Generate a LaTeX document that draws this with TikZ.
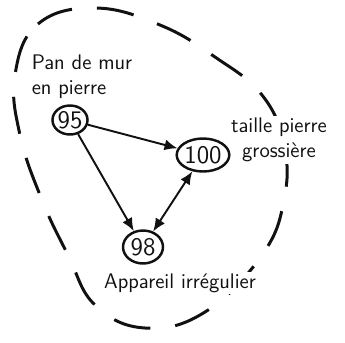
\documentclass[tikz,border=0pt]{standalone}
\usetikzlibrary{arrows.meta, positioning, shapes.geometric}
\definecolor{cink}{HTML}{111111}
\tikzset{
  every picture/.style={font=\sffamily, line width=1.2pt},
  site/.style={draw=cink, ellipse, inner sep=0pt, line width=1.4pt, font=\sffamily\Large, text=cink},
  arrow/.style={-{Latex[length=2.6mm, width=2.2mm]}, draw=cink, line width=1.1pt},
  twoway/.style={{Latex[length=2.6mm, width=2.2mm]}-{Latex[length=2.6mm, width=2.2mm]}, draw=cink, line width=1.1pt},
  hull/.style={draw=cink, line width=1.7pt, dash pattern=on 0.75cm off 0.5cm},
  note/.style={font=\sffamily\large, text=cink, fill=white, inner sep=1pt},
}
\begin{document}
\begin{tikzpicture}[x=0.02cm, y=-0.02cm]
  \useasboundingbox (0,0) rectangle (345,342);
  % outer dashed boundary
  \draw[hull] plot[smooth cycle, tension=0.7] coordinates {(15,75) (38,24) (95,8) (160,25) (215,57) (262,95) (284,145) (284,200) (262,255) (205,312) (145,328) (95,305) (68,255) (42,200) (20,135)};
  \node[note, align=left] (wall) at (82,77) {Pan de mur\\en pierre};
  \node[note, align=center] (cut) at (279,140) {taille pierre\\grossière};
  \node[note] (bond) at (180,283) {Appareil irrégulier};
  \node[site, minimum width=0.7cm, minimum height=0.58cm] (n95) at (70,120) {95};
  \node[site, minimum width=1.0cm, minimum height=0.66cm] (n100) at (203,155) {100};
  \node[site, minimum width=0.8cm, minimum height=0.66cm] (n98) at (143,247) {98};
  \draw[arrow] (n95) -- (n100);
  \draw[arrow] (n95) -- (n98);
  \draw[twoway] (n98) -- (n100);
\end{tikzpicture}
\end{document}
